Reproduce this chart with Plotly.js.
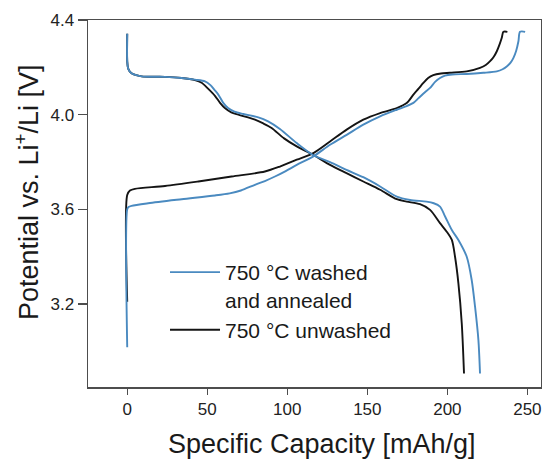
<!DOCTYPE html>
<html>
<head>
<meta charset="utf-8">
<script src="https://cdn.plot.ly/plotly-3.0.1.min.js"></script>
<style>html,body{margin:0;padding:0;background:#fff;}#chart{width:542px;height:459px;}</style>
</head>
<body>
<div id="chart"></div>
<script>
// Specific capacity (mAh/g) and potential (V)
const washedDischargeX = [0, 0, 0.6, 2.7, 9, 23.6, 34, 42.3, 48.6, 52, 54.5, 56.9, 60, 63, 67, 72.5, 81.9, 88, 95.4, 105.9, 116, 126.7, 137, 147.5, 158, 168.4, 176.7, 187, 191.5, 195.4, 198.6, 202.8, 206.9, 212.1, 215.2, 217.3, 219.4, 220.4];
const washedDischargeV = [4.342, 4.226, 4.195, 4.175, 4.162, 4.16, 4.155, 4.148, 4.141, 4.125, 4.105, 4.085, 4.05, 4.028, 4.013, 4.003, 3.989, 3.972, 3.94, 3.88, 3.83, 3.80, 3.767, 3.736, 3.697, 3.654, 3.64, 3.633, 3.626, 3.612, 3.57, 3.513, 3.471, 3.4, 3.302, 3.189, 3.048, 2.907];

const unwashedDischargeX = [0, 0, 0.6, 2.7, 9, 23.6, 34, 42.3, 46.5, 50.5, 54.8, 58, 61, 65, 69.4, 79.8, 85, 90.2, 98, 105.9, 116.3, 126.7, 137, 147.5, 158, 168.4, 174.6, 182.9, 189.2, 195.4, 199.6, 202.8, 204.8, 206.9, 209, 210.4];
const unwashedDischargeV = [4.342, 4.226, 4.195, 4.175, 4.162, 4.16, 4.155, 4.146, 4.135, 4.11, 4.08, 4.05, 4.028, 4.01, 4.0, 3.979, 3.963, 3.944, 3.9, 3.866, 3.83, 3.788, 3.753, 3.718, 3.683, 3.643, 3.633, 3.622, 3.598, 3.542, 3.506, 3.471, 3.4, 3.288, 3.118, 2.907];

const washedChargeX = [0, 0, 0.8, 2.7, 13.1, 34, 54.8, 64, 71, 79.8, 86, 92.3, 99, 105.9, 116.3, 126.7, 137.1, 147.5, 158, 168.4, 174, 178.8, 182, 186, 189.2, 192.5, 195.4, 198.5, 203, 212.1, 222.5, 230.9, 234.5, 237.1, 239.5, 241.3, 243, 244.4, 245.4, 248.6];
const washedChargeV = [3.018, 3.601, 3.61, 3.615, 3.626, 3.643, 3.659, 3.668, 3.68, 3.704, 3.72, 3.739, 3.762, 3.788, 3.824, 3.873, 3.915, 3.958, 3.993, 4.021, 4.035, 4.05, 4.07, 4.095, 4.113, 4.14, 4.155, 4.165, 4.17, 4.172, 4.177, 4.183, 4.192, 4.204, 4.22, 4.24, 4.27, 4.31, 4.35, 4.35];

const unwashedChargeX = [0, 0, 1.7, 4.8, 23.6, 44.4, 65.2, 86, 95.4, 105.9, 116.3, 126.7, 137.1, 147.5, 158, 168.4, 174.6, 178.8, 182, 185, 188, 191.2, 196, 201.7, 212.1, 220.4, 224, 226.7, 229, 230.9, 232.5, 234, 235, 237.5];
const unwashedChargeV = [3.21, 3.661, 3.68, 3.687, 3.699, 3.718, 3.739, 3.76, 3.781, 3.81, 3.838, 3.887, 3.937, 3.979, 4.007, 4.028, 4.049, 4.085, 4.11, 4.134, 4.155, 4.167, 4.174, 4.177, 4.183, 4.198, 4.21, 4.226, 4.245, 4.268, 4.295, 4.325, 4.35, 4.35];

const seriesNames = ["750 °C washed<br>and annealed", "750 °C unwashed"];
const xTitle = "Specific Capacity [mAh/g]";
const yTitle = "Potential vs. Li<sup>+</sup>/Li [V]";
const xTickVals = [0, 50, 100, 150, 200, 250];
const yTickVals = [3.2, 3.6, 4.0, 4.4];
const yTickText = ["3.2", "3.6", "4.0", "4.4"];

const blue = "#4a8ac0";
const black = "#141414";
const font = "Liberation Sans, Arial, sans-serif";
const lineShape = {width: 1.9, shape: "spline", smoothing: 0.8};

const traces = [
  {x: unwashedDischargeX, y: unwashedDischargeV, mode: "lines", name: seriesNames[1], showlegend: true, legendrank: 2, line: Object.assign({color: black}, lineShape)},
  {x: unwashedChargeX, y: unwashedChargeV, mode: "lines", name: seriesNames[1], showlegend: false, line: Object.assign({color: black}, lineShape)},
  {x: washedDischargeX, y: washedDischargeV, mode: "lines", name: seriesNames[0], showlegend: true, legendrank: 1, line: Object.assign({color: blue}, lineShape)},
  {x: washedChargeX, y: washedChargeV, mode: "lines", name: seriesNames[0], showlegend: false, line: Object.assign({color: blue}, lineShape)}
];

const axisCommon = {
  showgrid: false, zeroline: false, showline: true, mirror: true,
  linecolor: "#4d4d4d", linewidth: 1.5, ticks: "outside", tickcolor: "#4d4d4d", tickwidth: 1.3,
  tickfont: {family: font, size: 17, color: "#222"}
};

const layout = {
  width: 542, height: 459,
  margin: {l: 88, r: 1, t: 20, b: 72},
  paper_bgcolor: "#fff", plot_bgcolor: "#fff",
  showlegend: true,
  legend: {
    x: 0.17, y: 0.368, xanchor: "left", yanchor: "top",
    bgcolor: "rgba(0,0,0,0)", borderwidth: 0, valign: "top",
    font: {family: font, size: 21, color: "#1a1a1a"},
    itemwidth: 50, tracegroupgap: 0
  },
  xaxis: Object.assign({}, axisCommon, {
    range: [-24.5, 258.5], tickvals: xTickVals, ticklen: 6
  }),
  yaxis: Object.assign({}, axisCommon, {
    range: [2.85, 4.4], tickvals: yTickVals, ticktext: yTickText, ticklen: 9
  }),
  annotations: [
    {text: xTitle, xref: "paper", yref: "paper", x: 0.5166, y: -0.155, xanchor: "center", yanchor: "middle",
     showarrow: false, font: {family: font, size: 27, color: "#1a1a1a"}},
    {text: yTitle, xref: "paper", yref: "paper", x: -0.1347, y: 0.531, xanchor: "center", yanchor: "middle",
     textangle: -90, showarrow: false, font: {family: font, size: 27, color: "#1a1a1a"}}
  ]
};

Plotly.newPlot("chart", traces, layout, {staticPlot: true, displayModeBar: false});
</script>
</body>
</html>
